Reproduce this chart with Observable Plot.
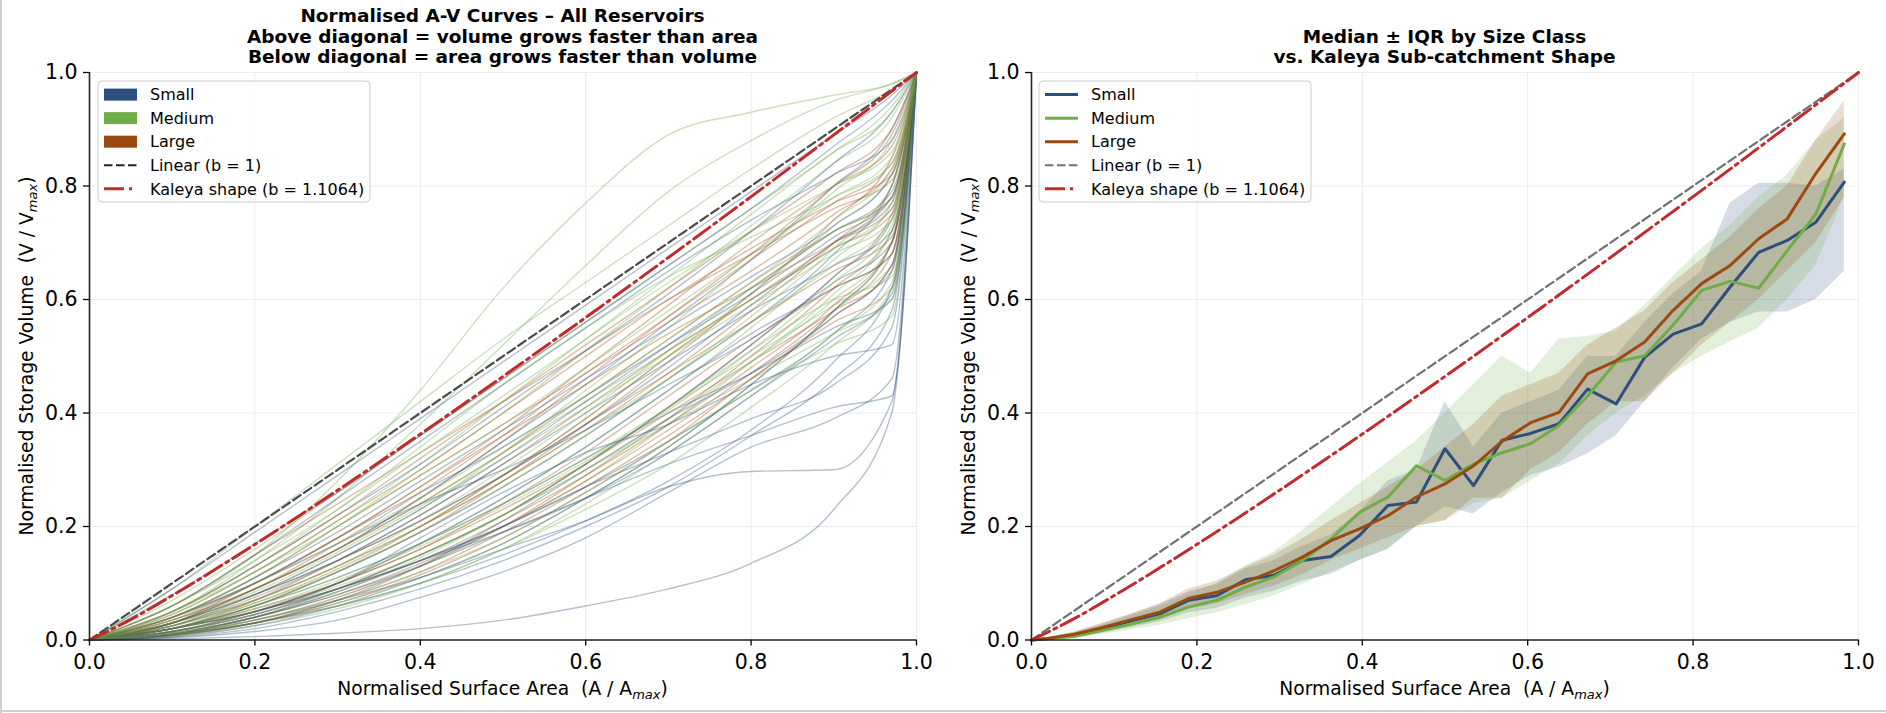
<!DOCTYPE html>
<html><head><meta charset="utf-8">
<script src="https://cdn.jsdelivr.net/npm/d3@7"></script>
<script src="https://cdn.jsdelivr.net/npm/@observablehq/plot@0.6"></script>
<style>
body{margin:0;background:#fff;font-family:"DejaVu Sans",sans-serif;}
#wrap{position:relative;width:1886px;height:713px;overflow:hidden;background:#fff;}
.panel{position:absolute;top:62px;}
#overlay{position:absolute;left:0;top:0;pointer-events:none;}
.edge{position:absolute;background:#cfcfcf;}
</style></head>
<body>
<div id="wrap">
  <div id="left" class="panel" style="left:0px"></div>
  <div id="right" class="panel" style="left:943px"></div>
  <svg id="overlay" width="1886" height="713"></svg>
  <div class="edge" style="left:0;top:0;width:2px;height:713px"></div>
  <div class="edge" style="left:0;top:710px;width:1886px;height:2px"></div>
</div>
<script>
// ---------------- data ----------------
const classes = ["Small", "Medium", "Large"];
const classColors = ["#2c4f7c", "#6fad47", "#9b4a12"];
const axisTicks = [0, 0.2, 0.4, 0.6, 0.8, 1.0];

// Left panel: normalised A-V curves, V/Vmax sampled at these A/Amax values
const curveX = [0, .1, .2, .3, .4, .5, .6, .7, .8, .9, .97, 1];
const smallCurves = [
  [0, .002, .006, .012, .02, .035, .06, .09, .135, .23, .40, 1],
  [0, .01, .035, .07, .11, .16, .21, .27, .297, .30, .42, 1],
  [0, .01, .04, .08, .13, .19, .25, .31, .36, .41, .43, 1],
  [0, .02, .06, .12, .19, .27, .36, .46, .56, .68, .80, 1],
  [0, .03, .09, .16, .25, .35, .45, .56, .67, .80, .90, 1],
  [0, .05, .13, .22, .31, .41, .51, .61, .72, .84, .93, 1],
  [0, .08, .17, .26, .36, .46, .56, .66, .76, .87, .95, 1],
  [0, .01, .04, .09, .15, .22, .31, .41, .52, .64, .74, 1],
  [0, .015, .05, .10, .17, .25, .34, .44, .54, .62, .68, 1],
  [0, .02, .07, .14, .22, .31, .40, .49, .58, .66, .72, 1],
  [0, .006, .025, .06, .11, .17, .25, .34, .45, .58, .70, 1],
  [0, .04, .11, .19, .28, .37, .46, .55, .64, .73, .82, 1],
  [0, .025, .08, .15, .23, .32, .42, .52, .62, .72, .79, 1],
  [0, .01, .03, .06, .10, .15, .21, .28, .37, .49, .62, 1],
  [0, .06, .15, .25, .35, .45, .55, .65, .74, .82, .88, 1],
  [0, .02, .06, .11, .17, .24, .32, .40, .47, .55, .60, 1],
  [0, .03, .10, .18, .26, .34, .43, .52, .61, .71, .78, 1],
  [0, .012, .04, .085, .14, .20, .27, .35, .44, .54, .65, 1],
  [0, .09, .19, .29, .39, .49, .59, .69, .79, .89, .96, 1],
  [0, .02, .05, .09, .14, .20, .27, .33, .39, .45, .55, 1],
  [0, .03, .08, .14, .21, .29, .38, .48, .59, .70, .77, 1],
  [0, .005, .02, .05, .09, .14, .20, .27, .36, .46, .58, 1],
  [0, .015, .045, .09, .14, .19, .25, .33, .43, .53, .61, 1],
  [0, .04, .10, .17, .24, .30, .37, .45, .53, .63, .70, 1],
  [0, .008, .03, .07, .13, .21, .30, .39, .47, .57, .66, 1],
  [0, .02, .05, .10, .18, .26, .33, .38, .45, .50, .52, 1],
  [0, .004, .015, .035, .075, .12, .18, .26, .34, .39, .46, 1]
];
const mediumCurves = [
  [0, .06, .15, .28, .44, .62, .77, .89, .93, .96, .98, 1],
  [0, .05, .14, .25, .38, .52, .66, .79, .88, .95, .98, 1],
  [0, .09, .20, .31, .42, .53, .63, .73, .83, .92, .97, 1],
  [0, .07, .16, .26, .36, .46, .56, .66, .76, .86, .94, 1],
  [0, .04, .11, .20, .30, .40, .51, .62, .73, .84, .92, 1],
  [0, .03, .08, .15, .23, .33, .44, .55, .67, .79, .88, 1],
  [0, .02, .06, .12, .20, .29, .39, .50, .61, .73, .82, 1],
  [0, .015, .05, .10, .17, .25, .34, .44, .55, .67, .77, 1],
  [0, .01, .035, .075, .13, .20, .28, .38, .49, .61, .72, 1],
  [0, .008, .03, .065, .11, .17, .25, .34, .45, .58, .70, 1],
  [0, .025, .07, .13, .20, .28, .37, .46, .56, .66, .74, 1],
  [0, .035, .09, .16, .24, .33, .42, .51, .60, .69, .76, 1],
  [0, .02, .05, .095, .15, .22, .30, .39, .49, .60, .70, 1],
  [0, .05, .12, .20, .29, .38, .48, .58, .68, .78, .85, 1],
  [0, .012, .04, .085, .145, .22, .31, .41, .51, .60, .64, 1],
  [0, .03, .085, .155, .235, .32, .41, .50, .59, .68, .74, 1],
  [0, .02, .06, .11, .17, .24, .32, .41, .50, .59, .66, 1],
  [0, .01, .03, .06, .10, .16, .23, .31, .41, .52, .62, 1],
  [0, .045, .12, .21, .31, .42, .53, .64, .75, .86, .93, 1],
  [0, .015, .045, .09, .15, .22, .30, .38, .46, .54, .60, 1],
  [0, .06, .14, .23, .33, .43, .53, .63, .72, .80, .86, 1],
  [0, .007, .025, .055, .10, .16, .24, .33, .43, .54, .63, 1],
  [0, .025, .065, .12, .19, .27, .36, .46, .57, .69, .80, 1],
  [0, .04, .10, .17, .25, .34, .43, .53, .63, .74, .83, 1],
  [0, .03, .07, .13, .21, .30, .40, .51, .62, .72, .78, 1],
  [0, .012, .035, .07, .12, .18, .26, .35, .44, .52, .57, 1],
  [0, .05, .13, .23, .34, .45, .55, .64, .71, .78, .84, 1],
  [0, .02, .055, .105, .165, .235, .315, .405, .51, .63, .73, 1]
];
const largeCurves = [
  [0, .02, .06, .12, .19, .28, .38, .49, .61, .74, .85, 1],
  [0, .03, .09, .16, .25, .35, .46, .57, .68, .80, .89, 1],
  [0, .015, .045, .09, .15, .22, .31, .41, .52, .64, .75, 1],
  [0, .04, .11, .20, .29, .38, .47, .56, .65, .75, .83, 1],
  [0, .025, .075, .14, .22, .31, .41, .51, .60, .69, .75, 1],
  [0, .01, .035, .075, .13, .20, .29, .39, .50, .62, .72, 1],
  [0, .05, .13, .22, .32, .42, .52, .62, .72, .82, .90, 1],
  [0, .02, .055, .10, .16, .23, .31, .40, .49, .58, .65, 1],
  [0, .035, .10, .18, .27, .37, .48, .59, .70, .80, .87, 1],
  [0, .012, .04, .08, .135, .20, .28, .37, .47, .58, .68, 1],
  [0, .03, .08, .14, .21, .29, .38, .47, .56, .65, .71, 1],
  [0, .02, .065, .125, .20, .29, .39, .50, .60, .70, .78, 1],
  [0, .045, .12, .21, .30, .40, .50, .60, .69, .77, .82, 1],
  [0, .008, .03, .07, .12, .19, .27, .36, .46, .57, .66, 1],
  [0, .025, .07, .13, .20, .28, .37, .47, .58, .70, .80, 1],
  [0, .015, .05, .10, .16, .24, .33, .43, .53, .62, .68, 1],
  [0, .06, .15, .24, .33, .42, .51, .60, .68, .76, .81, 1],
  [0, .03, .09, .17, .26, .36, .47, .57, .67, .77, .84, 1],
  [0, .02, .05, .09, .14, .21, .29, .38, .48, .59, .70, 1],
  [0, .035, .09, .16, .24, .33, .43, .53, .63, .72, .78, 1],
  [0, .01, .03, .065, .115, .18, .26, .35, .46, .56, .62, 1],
  [0, .04, .10, .18, .27, .36, .45, .54, .62, .70, .76, 1]
];

// Reference curves
const linearX = [0, 1];
const linearY = [0, 1];
const kaleyaB = 1.1064;
const kaleyaX = [0, .05, .1, .2, .3, .4, .5, .6, .7, .8, .9, 1];
const kaleyaY = [0, .0363, .0783, .1685, .2639, .3628, .4645, .5682, .6740, .7812, .8900, 1];

// Right panel: median and IQR per size class at bin centres
const binX = [0, .0172, .0517, .0862, .1207, .1552, .1897, .2241, .2586, .2931, .3276, .3621, .3966, .4310, .4655,
  .5, .5345, .5690, .6034, .6379, .6724, .7069, .7414, .7759, .8103, .8448, .8793, .9138, .9483, .9828];
const smallMed = [0, .002, .008, .02, .034, .046, .07, .078, .106, .114, .14, .147, .184, .237, .243,
  .337, .272, .352, .364, .381, .442, .416, .498, .539, .557, .622, .683, .704, .736, .807];
const smallQ25 = [0, 0, .004, .012, .022, .032, .048, .056, .074, .086, .104, .116, .14, .16, .2,
  .235, .222, .26, .29, .305, .328, .36, .42, .48, .53, .56, .578, .578, .6, .65];
const smallQ75 = [0, .004, .013, .028, .045, .062, .085, .098, .125, .14, .165, .185, .225, .28, .3,
  .42, .34, .40, .42, .44, .50, .50, .56, .61, .65, .77, .805, .805, .80, .83];
const mediumMed = [0, .002, .006, .017, .028, .04, .058, .07, .093, .111, .14, .178, .225, .252, .307,
  .281, .31, .33, .346, .378, .43, .49, .501, .555, .616, .632, .62, .686, .75, .874];
const mediumQ25 = [0, 0, .003, .01, .018, .026, .038, .048, .062, .078, .098, .12, .14, .16, .2,
  .21, .24, .25, .28, .31, .36, .40, .43, .47, .50, .525, .55, .60, .66, .78];
const mediumQ75 = [0, .004, .012, .026, .042, .058, .08, .1, .13, .155, .193, .234, .275, .313, .351,
  .40, .45, .50, .47, .53, .535, .545, .59, .64, .69, .73, .78, .82, .88, .92];
const largeMed = [0, .002, .01, .022, .036, .049, .073, .084, .102, .122, .146, .175, .196, .219, .252,
  .275, .307, .35, .383, .401, .469, .492, .525, .581, .628, .66, .707, .742, .822, .892];
const largeQ25 = [0, 0, .005, .014, .025, .036, .055, .064, .08, .095, .115, .14, .16, .18, .2,
  .21, .25, .25, .30, .33, .38, .42, .42, .47, .52, .56, .60, .65, .70, .78];
const largeQ75 = [0, .004, .014, .03, .046, .064, .09, .104, .128, .15, .178, .21, .24, .27, .30,
  .34, .38, .43, .45, .47, .52, .55, .58, .63, .67, .71, .76, .80, .88, .95];

// ---------------- build tables ----------------
const curveSets = [smallCurves, mediumCurves, largeCurves];
const resRows = [];
const maxN = Math.max(...curveSets.map(s => s.length));
for (let j = 0; j < maxN; j++) {
  curveSets.forEach((set, ci) => {
    if (j < set.length) set[j].forEach((y, i) => resRows.push({id: ci + "-" + j, cls: classes[ci], x: curveX[i], y}));
  });
}
const linearRows = linearX.map((x, i) => ({x, y: linearY[i]}));
const kaleyaRows = kaleyaX.map((x, i) => ({x, y: kaleyaY[i]}));
const statSets = [[smallMed, smallQ25, smallQ75], [mediumMed, mediumQ25, mediumQ75], [largeMed, largeQ25, largeQ75]];
const statRows = [];
statSets.forEach(([m, lo, hi], ci) => binX.forEach((x, i) => statRows.push({cls: classes[ci], x, med: m[i], lo: lo[i], hi: hi[i]})));

const KRED = "#c22a2c";
const common = (ml, mr) => ({
  width: 943, height: 651, marginTop: 10, marginBottom: 73.5, marginLeft: ml, marginRight: mr,
  x: {domain: [0, 1]}, y: {domain: [0, 1]},
  color: {domain: classes, range: classColors},
  style: {fontFamily: "DejaVu Sans", fontSize: "20.5px", color: "#000", background: "transparent", overflow: "visible"}
});
const axes = () => [
  Plot.gridX(axisTicks, {stroke: "#ececec", strokeOpacity: 1, strokeWidth: 1}),
  Plot.gridY(axisTicks, {stroke: "#ececec", strokeOpacity: 1, strokeWidth: 1})
];
const frameAxes = () => [
  Plot.axisX({ticks: axisTicks, tickFormat: ".1f", tickSize: 6, tickPadding: 8, label: null, strokeWidth: 1.3}),
  Plot.axisY({ticks: axisTicks, tickFormat: ".1f", tickSize: 6, tickPadding: 6, label: null, strokeWidth: 1.3}),
  Plot.ruleX([0], {stroke: "#222", strokeWidth: 1.6}),
  Plot.ruleY([0], {stroke: "#222", strokeWidth: 1.6})
];

const leftPlot = Plot.plot({
  ...common(89, 27),
  marks: [
    ...axes(),
    Plot.line(resRows, {x: "x", y: "y", z: "id", stroke: "cls", strokeOpacity: 0.36, strokeWidth: 1.4, curve: "monotone-x"}),
    Plot.line(linearRows, {x: "x", y: "y", stroke: "#4a4a4a", strokeWidth: 2.2, strokeDasharray: "9 4"}),
    Plot.line(kaleyaRows, {x: "x", y: "y", stroke: KRED, strokeWidth: 3, strokeDasharray: "20 5 3 5", curve: "monotone-x"}),
    ...frameAxes()
  ]
});
document.getElementById("left").appendChild(leftPlot);

const rightMarks = [...axes()];
classes.forEach(c => rightMarks.push(Plot.areaY(statRows.filter(d => d.cls === c), {x: "x", y1: "lo", y2: "hi", fill: "cls", fillOpacity: 0.2})));
classes.forEach(c => rightMarks.push(Plot.line(statRows.filter(d => d.cls === c), {x: "x", y: "med", stroke: "cls", strokeWidth: 3, strokeLinejoin: "round"})));
rightMarks.push(
  Plot.line(linearRows, {x: "x", y: "y", stroke: "#707070", strokeWidth: 2.2, strokeDasharray: "9 4"}),
  Plot.line(kaleyaRows, {x: "x", y: "y", stroke: KRED, strokeWidth: 3, strokeDasharray: "20 5 3 5", curve: "monotone-x"}),
  ...frameAxes()
);
const rightPlot = Plot.plot({...common(88, 28), marks: rightMarks});
document.getElementById("right").appendChild(rightPlot);

// ---------------- overlay: titles, axis labels, legends ----------------
const ov = d3.select("#overlay").style("font-family", "DejaVu Sans");
function titleLines(cx, lines, baselines) {
  lines.forEach((t, i) => ov.append("text").attr("x", cx).attr("y", baselines[i]).attr("text-anchor", "middle")
    .attr("font-weight", "bold").attr("font-size", 18.5).attr("fill", "#000").text(t));
}
titleLines(502.5, ["Normalised A-V Curves – All Reservoirs", "Above diagonal = volume grows faster than area", "Below diagonal = area grows faster than volume"], [22.3, 42.7, 63.3]);
titleLines(1444.5, ["Median ± IQR by Size Class", "vs. Kaleya Sub-catchment Shape"], [42.7, 63.3]);

function subLabel(g, main) {
  g.append("tspan").text(main);
  g.append("tspan").attr("font-size", 13).attr("font-style", "italic").attr("dy", 4).text("max");
  g.append("tspan").attr("dy", -4).text(")");
}
[[502.5, 33], [1444.5, 975]].forEach(([cx, yx]) => {
  const xl = ov.append("text").attr("x", cx).attr("y", 695).attr("text-anchor", "middle").attr("font-size", 18.7)
    .style("white-space", "pre").attr("fill", "#000");
  subLabel(xl, "Normalised Surface Area  (A / A");
  const yl = ov.append("text").attr("transform", `translate(${yx},356) rotate(-90)`).attr("text-anchor", "middle")
    .attr("font-size", 18.7).style("white-space", "pre").attr("fill", "#000");
  subLabel(yl, "Normalised Storage Volume  (V / V");
});

const legendLabels = ["Small", "Medium", "Large", "Linear (b = 1)", "Kaleya shape (b = " + kaleyaB + ")"];
function legend(bx, patches, linColor) {
  const g = ov.append("g");
  g.append("rect").attr("x", bx).attr("y", 81).attr("width", 272).attr("height", 121).attr("rx", 4)
    .attr("fill", "#fff").attr("fill-opacity", 0.85).attr("stroke", "#cccccc").attr("stroke-width", 1);
  legendLabels.forEach((lab, i) => {
    const cy = 94.6 + i * 23.55;
    const x0 = bx + 6, x1 = bx + 39;
    if (i < 3) {
      if (patches) g.append("rect").attr("x", x0).attr("y", cy - 6).attr("width", 33).attr("height", 12).attr("fill", classColors[i]);
      else g.append("line").attr("x1", x0).attr("x2", x1).attr("y1", cy).attr("y2", cy).attr("stroke", classColors[i]).attr("stroke-width", 3);
    } else if (i === 3) {
      g.append("line").attr("x1", x0).attr("x2", x1).attr("y1", cy).attr("y2", cy).attr("stroke", linColor).attr("stroke-width", 2.2).attr("stroke-dasharray", "8.5 3.5");
    } else {
      g.append("line").attr("x1", x0).attr("x2", x1).attr("y1", cy).attr("y2", cy).attr("stroke", KRED).attr("stroke-width", 3).attr("stroke-dasharray", "20 5 3 5");
    }
    g.append("text").attr("x", bx + 52).attr("y", cy).attr("dy", "0.36em").attr("font-size", 16).attr("fill", "#000").text(lab);
  });
}
legend(98, true, "#222");
legend(1039, false, "#707070");
</script>
</body></html>
